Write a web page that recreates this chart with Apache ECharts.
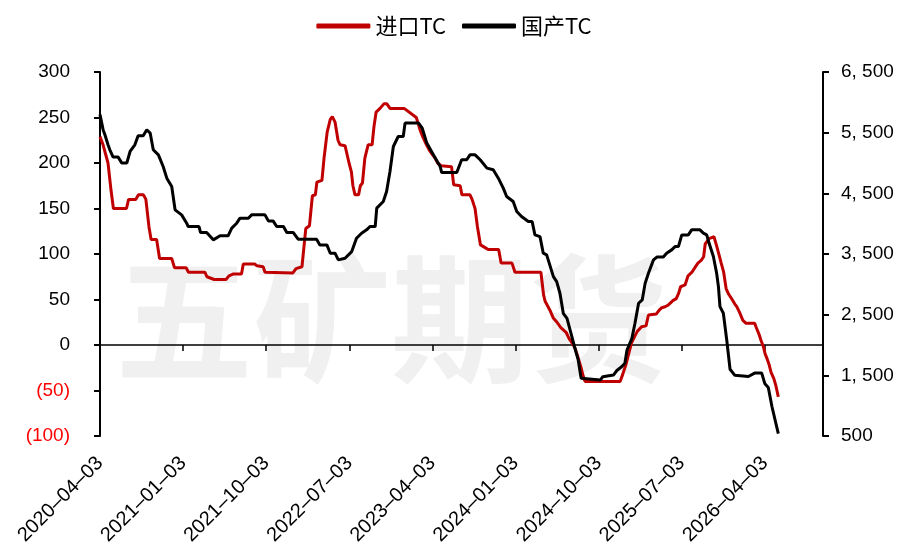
<!DOCTYPE html>
<html><head><meta charset="utf-8">
<script src="https://cdn.jsdelivr.net/npm/echarts@6/dist/echarts.min.js"></script>
<style>html,body{margin:0;padding:0;background:#fff}#c{width:908px;height:551px}</style>
</head><body><div id="c"></div>
<script>
// 进口TC (left axis, $/t)
const importDates = ["2020-04-03","2020-04-13","2020-04-29","2020-05-09","2020-05-17","2020-06-29","2020-07-06","2020-07-30","2020-08-08","2020-08-25","2020-09-02","2020-09-12","2020-09-19","2020-10-07","2020-10-17","2020-11-26","2020-12-05","2021-01-13","2021-01-21","2021-03-14","2021-03-21","2021-04-14","2021-05-23","2021-06-02","2021-06-15","2021-07-13","2021-07-19","2021-08-27","2021-09-03","2021-09-23","2021-09-29","2021-12-30","2022-01-10","2022-01-30","2022-02-06","2022-02-11","2022-02-22","2022-03-03","2022-03-13","2022-03-18","2022-04-04","2022-04-11","2022-04-21","2022-05-01","2022-05-08","2022-05-17","2022-05-27","2022-06-03","2022-06-19","2022-07-02","2022-07-10","2022-07-15","2022-07-22","2022-08-03","2022-08-09","2022-08-16","2022-08-24","2022-08-29","2022-09-04","2022-09-17","2022-09-23","2022-09-30","2022-10-13","2022-10-26","2022-11-05","2022-11-15","2023-01-01","2023-02-10","2023-02-20","2023-02-28","2023-03-06","2023-03-14","2023-03-22","2023-04-01","2023-04-12","2023-04-20","2023-05-01","2023-06-05","2023-06-12","2023-07-03","2023-07-09","2023-08-05","2023-08-12","2023-08-22","2023-08-30","2023-09-09","2023-09-24","2023-10-04","2023-11-08","2023-11-16","2023-12-22","2024-01-01","2024-03-26","2024-04-04","2024-04-09","2024-04-25","2024-05-05","2024-05-18","2024-05-31","2024-06-17","2024-06-27","2024-07-07","2024-07-16","2024-07-26","2024-08-06","2024-08-12","2024-08-19","2024-12-13","2024-12-22","2025-01-01","2025-01-12","2025-01-20","2025-02-01","2025-02-08","2025-02-21","2025-03-07","2025-03-15","2025-04-10","2025-04-19","2025-04-28","2025-05-09","2025-05-20","2025-06-05","2025-06-15","2025-06-23","2025-06-29","2025-07-14","2025-07-24","2025-08-06","2025-08-16","2025-08-26","2025-09-06","2025-09-14","2025-09-19","2025-10-02","2025-10-18","2025-10-26","2025-11-04","2025-11-11","2025-11-19","2025-11-27","2025-12-05","2025-12-17","2025-12-26","2026-01-02","2026-01-12","2026-01-22","2026-02-01","2026-02-28","2026-03-04","2026-03-14","2026-03-21","2026-03-29","2026-04-04","2026-04-10","2026-04-17","2026-04-23","2026-05-02","2026-05-09","2026-05-17"];
const importTC = [229,220,200,170,150,150,160,160,165,165,160,130,116,116,95,95,85,85,80,80,75,72,72,76,78,78,89,89,87,86,80,79,84,86,110,128,131,164,165,179,181,206,234,248,251,245,225,220,219,200,190,175,165,165,175,178,205,212,220,220,240,256,260,265,265,260,260,250,238,230,228,220,215,210,205,200,197,196,176,175,165,165,160,150,130,110,107,105,105,90,90,80,80,55,48,38,30,25,19,14,7,2,-3,-13,-25,-33,-40,-40,-32,-22,-8,2,10,15,20,21,33,34,38,41,42,44,49,51,57,64,66,76,80,85,90,93,97,111,117,119,110,99,90,80,62,56,50,45,42,35,27,24,24,20,12,5,-2,-10,-15,-22,-30,-37,-45,-57];

// 国产TC (right axis, 元/吨)
const domesticDates = ["2020-04-03","2020-04-13","2020-04-19","2020-04-29","2020-05-05","2020-05-16","2020-06-02","2020-06-14","2020-06-30","2020-07-11","2020-07-27","2020-08-07","2020-08-24","2020-09-05","2020-09-16","2020-09-26","2020-10-13","2020-10-29","2020-11-10","2020-11-26","2020-12-07","2020-12-29","2021-01-15","2021-01-20","2021-02-23","2021-02-28","2021-03-20","2021-04-11","2021-05-03","2021-05-30","2021-06-11","2021-06-27","2021-07-08","2021-08-05","2021-08-16","2021-09-29","2021-10-10","2021-10-26","2021-11-07","2021-11-29","2021-12-10","2022-01-01","2022-01-17","2022-03-17","2022-03-28","2022-04-20","2022-05-01","2022-05-17","2022-05-28","2022-06-19","2022-07-11","2022-07-27","2022-08-13","2022-08-30","2022-09-10","2022-09-27","2022-10-02","2022-10-24","2022-11-04","2022-11-15","2022-11-26","2022-12-12","2022-12-29","2023-01-04","2023-02-17","2023-02-28","2023-03-15","2023-04-06","2023-04-28","2023-05-03","2023-06-22","2023-07-08","2023-07-25","2023-08-05","2023-08-22","2023-09-08","2023-09-30","2023-10-21","2023-11-07","2023-11-23","2023-12-04","2023-12-26","2024-01-07","2024-01-23","2024-02-14","2024-02-26","2024-03-06","2024-03-23","2024-04-03","2024-04-14","2024-05-06","2024-05-17","2024-05-28","2024-06-08","2024-06-20","2024-07-06","2024-07-16","2024-07-27","2024-08-06","2024-08-09","2024-10-08","2024-10-17","2024-11-21","2024-12-02","2024-12-18","2024-12-29","2025-01-05","2025-01-21","2025-02-01","2025-02-12","2025-02-23","2025-03-04","2025-03-15","2025-04-01","2025-04-12","2025-05-03","2025-05-14","2025-05-31","2025-06-11","2025-06-22","2025-07-03","2025-07-25","2025-08-05","2025-09-02","2025-09-13","2025-09-24","2025-09-30","2025-10-16","2025-10-27","2025-11-02","2025-11-07","2025-11-18","2025-11-29","2025-12-10","2025-12-26","2026-02-09","2026-03-01","2026-03-23","2026-04-03","2026-04-14","2026-04-26","2026-05-17"];
const domesticTC = [5800,5550,5465,5300,5218,5097,5097,4998,4998,5190,5300,5449,5449,5548,5493,5218,5135,4943,4750,4612,4228,4145,4008,3953,3953,3853,3853,3733,3800,3800,3926,4008,4090,4090,4145,4145,4046,4046,3953,3953,3853,3853,3744,3744,3650,3650,3513,3513,3403,3430,3540,3760,3843,3898,3953,3953,4256,4365,4530,4860,5272,5437,5437,5658,5658,5575,5328,5135,4943,4843,4843,5053,5053,5135,5135,5053,4916,4888,4750,4585,4447,4365,4200,4117,4035,4035,3815,3787,3513,3485,3127,3045,2853,2523,2440,2137,1950,1760,1450,1422,1422,1477,1505,1580,1642,1700,1918,2100,2358,2688,2743,3018,3183,3403,3450,3450,3513,3568,3622,3622,3815,3815,3898,3898,3843,3815,3705,3458,3183,2962,2632,2523,2083,1600,1500,1480,1540,1540,1360,1300,982,540];

const seriesNames = ["进口TC", "国产TC"];
const xStart = "2020-04-03";
const xEnd = "2026-10-12";
const tickMonths = 9;

function dim(y, m) { return new Date(y, m, 0).getDate(); }
function toMonths(s) {
  const [y, m, d] = s.split("-").map(Number);
  return (y - 2020) * 12 + (m - 4) + (d - 3) / dim(y, m);
}
function fromMonths(v) {
  const k = Math.round(v);
  const y = 2020 + Math.floor((k + 3) / 12);
  const m = ((k + 3) % 12) + 1;
  return y + "–" + String(m).padStart(2, "0") + "–03";
}
const imp = importDates.map((d, i) => [toMonths(d), importTC[i]]);
const dom = domesticDates.map((d, i) => [toMonths(d), domesticTC[i]]);

const FONT = "Liberation Sans, Arial, sans-serif";
const chart = echarts.init(document.getElementById("c"), null, { renderer: "canvas" });
const xCommon = { type: "value", min: toMonths(xStart), max: toMonths(xEnd), interval: tickMonths, splitLine: { show: false } };
chart.setOption({
  animation: false,
  backgroundColor: "#fff",
  graphic: [{
    type: "text", left: 115, top: 250, z: 0, silent: true,
    style: { text: "五矿期货", fontSize: 138, fontWeight: "bold", fill: "#f0f0f0", fontFamily: "Noto Sans CJK SC", letterSpacing: 12 }
  }],
  legend: {
    top: 10, left: "center", itemWidth: 54, itemHeight: 5, itemGap: 16, icon: "roundRect",
    textStyle: { fontFamily: "Noto Sans CJK SC", fontSize: 22, color: "#000" },
    data: seriesNames
  },
  grid: { left: 100, right: 85, top: 72, bottom: 115, containLabel: false },
  xAxis: [
    Object.assign({}, xCommon, {
      axisLine: { onZero: true, onZeroAxisIndex: 0, lineStyle: { color: "#000", width: 1.5 } },
      axisTick: { show: true, inside: false, length: 6, lineStyle: { color: "#000", width: 1.5 } },
      axisLabel: { show: false }
    }),
    Object.assign({}, xCommon, {
      position: "bottom",
      axisLine: { show: false, onZero: false },
      axisTick: { show: false },
      axisLabel: { show: true, rotate: 45, margin: 24, fontSize: 20, fontFamily: FONT, color: "#000",
        showMaxLabel: false, formatter: v => fromMonths(v) }
    })
  ],
  yAxis: [
    {
      type: "value", min: -100, max: 300, interval: 50, position: "left",
      axisLine: { show: true, onZero: false, lineStyle: { color: "#000", width: 2 } },
      axisTick: { show: true, length: 6, lineStyle: { color: "#000", width: 2 } },
      splitLine: { show: false },
      axisLabel: { margin: 30, fontSize: 19, fontFamily: FONT, color: "#000",
        formatter: v => v < 0 ? "{neg|(" + (-v) + ")}" : String(v),
        rich: { neg: { color: "#ff0000", fontSize: 19, fontFamily: FONT } } }
    },
    {
      type: "value", min: 500, max: 6500, interval: 1000, position: "right",
      axisLine: { show: true, onZero: false, lineStyle: { color: "#000", width: 2 } },
      axisTick: { show: true, length: 6, lineStyle: { color: "#000", width: 2 } },
      splitLine: { show: false },
      axisLabel: { margin: 18, fontSize: 19, fontFamily: FONT, color: "#000",
        formatter: v => v >= 1000 ? Math.floor(v / 1000) + ", " + String(v % 1000).padStart(3, "0") : String(v) }
    }
  ],
  series: [
    { name: seriesNames[0], type: "line", xAxisIndex: 0, yAxisIndex: 0, data: imp, showSymbol: false, symbol: "none",
      lineStyle: { color: "#c00000", width: 3 }, itemStyle: { color: "#c00000" }, z: 3 },
    { name: seriesNames[1], type: "line", xAxisIndex: 0, yAxisIndex: 1, data: dom, showSymbol: false, symbol: "none",
      lineStyle: { color: "#000", width: 3 }, itemStyle: { color: "#000" }, z: 4 }
  ]
});
</script></body></html>
